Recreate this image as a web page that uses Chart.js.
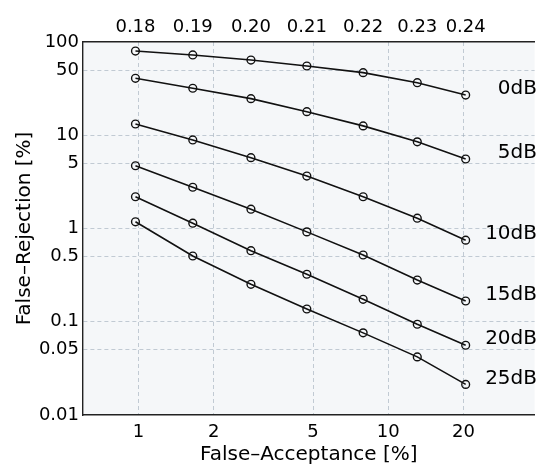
<!doctype html>
<html lang="en">
  <head>
    <meta charset="utf-8">
    <title>False-Acceptance vs False-Rejection</title>
    <style>
      html, body { margin: 0; padding: 0; background: #fff; }
      #wrap { width: 540px; height: 465px; position: relative; }
    </style>
  </head>
  <body>
    <div id="wrap"><canvas id="det_chart"></canvas></div>

    <script src="https://cdn.jsdelivr.net/npm/chart.js"></script>

    <script>
        // false acceptance [%] of each operating point (same for every curve)
        const faValues = [0.973, 1.65, 2.82, 4.72, 7.93, 13.06, 20.4];
        // threshold shown on the top axis
        const thresholds = ['0.18', '0.19', '0.20', '0.21', '0.22', '0.23', '0.24'];

        const snrLabels = ['0dB', '5dB', '10dB', '15dB', '20dB', '25dB'];
        const fr0dB  = [80, 72.6, 64, 55.3, 46.9, 36.6, 27];
        const fr5dB  = [40.8, 31.9, 24.7, 17.9, 12.6, 8.5, 5.56];
        const fr10dB = [13.2, 8.9, 5.75, 3.65, 2.19, 1.29, 0.75];
        const fr15dB = [4.71, 2.77, 1.61, 0.92, 0.52, 0.28, 0.167];
        const fr20dB = [2.19, 1.14, 0.578, 0.323, 0.174, 0.094, 0.056];
        const fr25dB = [1.18, 0.507, 0.252, 0.137, 0.076, 0.042, 0.0213];

        const xTicks = [1, 2, 5, 10, 20];
        const yTicks = [0.01, 0.05, 0.1, 0.5, 1, 5, 10, 50, 100];

        const FONT = 'DejaVu Sans';
        const GRID = 'rgba(150,165,180,0.55)';

        function toPoints(vals){
            return vals.map(function(v, i){ return {x: faValues[i], y: v}; });
        }

        function make_dataset(label, vals){
            return {
                label: label,
                data: toPoints(vals),
                borderColor: '#111',
                backgroundColor: 'rgba(0,0,0,0)',
                borderWidth: 1.6,
                pointRadius: 3.9,
                pointBorderWidth: 1.4,
                pointBorderColor: '#111',
                pointBackgroundColor: 'rgba(0,0,0,0)',
                tension: 0
            };
        }

        // light background inside the axes
        const plotBg = {
            id: 'plotBg',
            beforeDraw: function(chart){
                const a = chart.chartArea, ctx = chart.ctx;
                ctx.save();
                ctx.fillStyle = '#f5f7f9';
                ctx.fillRect(a.left, a.top, a.right - a.left, a.bottom - a.top);
                ctx.restore();
            }
        };

        // curve names next to the last point of each curve
        const curveNames = {
            id: 'curveNames',
            afterDatasetsDraw: function(chart){
                const ctx = chart.ctx;
                ctx.save();
                ctx.font = '20px "' + FONT + '"';
                ctx.fillStyle = '#000';
                ctx.textAlign = 'right';
                ctx.textBaseline = 'middle';
                chart.data.datasets.forEach(function(ds, i){
                    const pts = chart.getDatasetMeta(i).data;
                    const last = pts[pts.length - 1];
                    ctx.fillText(ds.label, 537, last.y - 6);
                });
                ctx.restore();
            }
        };

        const ctx = document.getElementById('det_chart');

        new Chart(ctx, {
            type: 'line',
            data: {
                datasets: [
                    make_dataset(snrLabels[0], fr0dB),
                    make_dataset(snrLabels[1], fr5dB),
                    make_dataset(snrLabels[2], fr10dB),
                    make_dataset(snrLabels[3], fr15dB),
                    make_dataset(snrLabels[4], fr20dB),
                    make_dataset(snrLabels[5], fr25dB)
                ]
            },
            plugins: [plotBg, curveNames],
            options: {
                responsive: true,
                maintainAspectRatio: false,
                animation: false,
                layout: { padding: { left: 0, right: 0, top: 0, bottom: 0 } },
                plugins: { legend: { display: false }, tooltip: { enabled: false } },
                scales: {
                    x: {
                        type: 'logarithmic',
                        position: 'bottom',
                        min: 0.607,
                        max: 38.5,
                        afterBuildTicks: function(scale){
                            scale.ticks = xTicks.map(function(v){ return {value: v}; });
                        },
                        afterFit: function(scale){ scale.height = 50; },
                        ticks: {
                            autoSkip: false, maxRotation: 0, padding: 7,
                            color: '#000', font: { family: FONT, size: 18 },
                            callback: function(v){ return String(v); }
                        },
                        grid: { color: GRID, lineWidth: 1, drawTicks: false },
                        border: { display: true, color: '#222', width: 1.4, dash: [4, 3] },
                        title: {
                            display: true, text: 'False\u2013Acceptance [%]', color: '#000',
                            font: { family: FONT, size: 20, lineHeight: 1.0 },
                            padding: { top: 0, bottom: 0 }
                        }
                    },
                    x2: {
                        type: 'logarithmic',
                        position: 'top',
                        min: 0.607,
                        max: 38.5,
                        afterBuildTicks: function(scale){
                            scale.ticks = faValues.map(function(v){ return {value: v}; });
                        },
                        afterFit: function(scale){ scale.height = 42; },
                        ticks: {
                            autoSkip: false, maxRotation: 0, padding: 4,
                            color: '#000', font: { family: FONT, size: 18 },
                            callback: function(v, i){ return thresholds[i]; }
                        },
                        grid: { display: false, drawTicks: false },
                        border: { display: true, color: '#222', width: 1.4 }
                    },
                    y: {
                        type: 'logarithmic',
                        min: 0.01,
                        max: 100,
                        afterBuildTicks: function(scale){
                            scale.ticks = yTicks.map(function(v){ return {value: v}; });
                        },
                        afterFit: function(scale){ scale.width = 83; },
                        ticks: {
                            autoSkip: false, padding: 4,
                            color: '#000', font: { family: FONT, size: 18 },
                            callback: function(v){ return String(v); }
                        },
                        grid: {
                            drawTicks: false, lineWidth: 1,
                            color: function(c){
                                const v = c.tick ? c.tick.value : 0;
                                return (v === 0.01 || v === 100) ? 'rgba(0,0,0,0)' : GRID;
                            }
                        },
                        border: { display: true, color: '#222', width: 1.4, dash: [4, 3] },
                        title: {
                            display: true, text: 'False\u2013Rejection [%]', color: '#000',
                            font: { family: FONT, size: 20, lineHeight: 1.0 },
                            padding: { top: 15, bottom: 0 }
                        }
                    }
                }
            }
        });
    </script>
  </body>
</html>
